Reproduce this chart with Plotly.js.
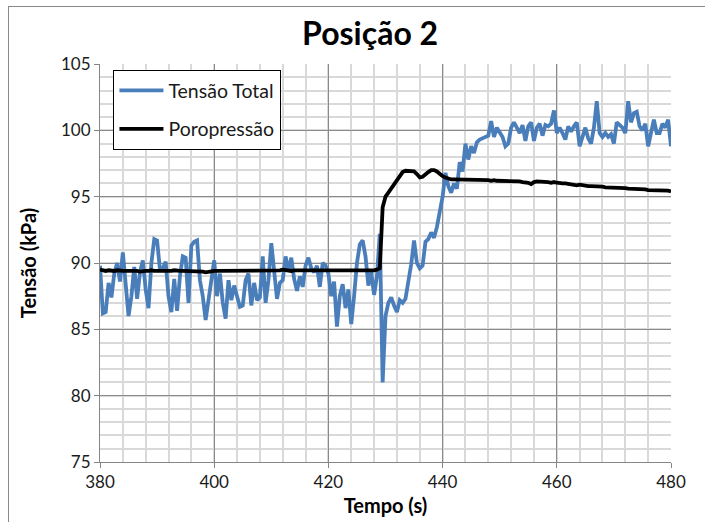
<!DOCTYPE html>
<html>
<head>
<meta charset="utf-8">
<script src="https://cdn.plot.ly/plotly-3.0.1.min.js"></script>
<style>
  html, body { margin: 0; padding: 0; background: #fff; }
  #wrap { position: relative; width: 705px; height: 522px; overflow: hidden; }
  #chart { position: absolute; left: 0; top: 0; width: 705px; height: 522px; }
  #frame { position: absolute; left: 8px; top: 6px; width: 760px; height: 600px;
           border-left: 1.5px solid #8a8a8a; border-top: 1.5px solid #8a8a8a; pointer-events: none; }
</style>
</head>
<body>
<div id="wrap">
  <div id="chart"></div>
  <div id="frame"></div>
</div>
<script>
// Sampling: one reading every 0.5 s starting at 380 s
const T_START = 380;
const T_STEP = 0.5;

// Total stress readings (kPa)
const tensaoTotal = [
  89.8, 86.2, 86.3, 88.5, 87.4, 89.2, 90.0, 88.6, 90.8, 88.0,
  86.0, 87.5, 89.7, 87.3, 89.3, 90.2, 88.0, 86.6, 90.0, 91.8,
  91.7, 89.5, 89.6, 90.1, 87.5, 86.3, 88.8, 86.4, 89.0, 90.5,
  90.4, 87.0, 91.3, 91.6, 91.7, 88.7, 87.5, 85.7, 87.4, 88.7,
  90.2, 87.5, 89.2, 87.0, 85.8, 88.7, 87.2, 88.3, 87.5, 86.7,
  86.8, 88.7, 89.2, 86.8, 88.5, 87.2, 87.4, 90.5, 87.0, 88.7,
  91.5, 89.0, 87.3, 88.5, 88.7, 90.5, 89.4, 90.4, 88.8, 87.9,
  89.0, 88.2, 89.8, 90.4, 89.6, 89.3, 89.8, 88.2, 90.0, 89.8,
  89.2, 87.5, 88.6, 85.2, 87.5, 88.4, 86.6, 88.0, 85.4, 87.5,
  90.0, 91.4, 91.7, 90.5, 88.3, 89.3, 87.6, 89.0, 92.2, 81.0,
  86.0, 87.0, 87.4, 86.8, 86.3, 87.2, 87.0, 87.3, 88.5, 89.9,
  91.7, 90.0, 89.6, 89.8, 91.6, 91.8, 92.3, 91.9, 92.7, 93.8,
  95.0, 96.8, 95.8, 95.3, 96.0, 95.6, 97.6, 96.9, 99.0, 97.8,
  98.8, 98.3, 99.1, 99.3, 99.4, 99.5, 99.6, 100.7, 99.5, 100.2,
  99.8, 99.5, 98.8, 99.0, 100.2, 100.6, 100.2, 99.8, 100.4, 99.2,
  100.3, 100.6, 99.2, 100.2, 100.5, 99.6, 100.4, 100.3, 100.5, 101.5,
  99.8, 100.2, 99.8, 99.3, 100.3, 99.9, 100.3, 100.6, 98.8, 99.6,
  100.2, 99.4, 99.0, 100.2, 102.2, 99.8, 99.5, 99.8, 99.5, 99.7,
  99.0, 100.6, 100.4, 100.2, 99.8, 102.2, 100.6, 101.3, 101.4, 100.3,
  100.0, 100.5, 98.8, 100.0, 100.8, 99.8, 99.8, 100.5, 100.2, 100.8,
  98.8
];

// Pore pressure readings (kPa)
const poropressao = [
  89.5, 89.45, 89.4, 89.45, 89.4, 89.4, 89.45, 89.4, 89.4, 89.4,
  89.4, 89.45, 89.4, 89.4, 89.35, 89.4, 89.4, 89.4, 89.45, 89.4,
  89.4, 89.4, 89.35, 89.4, 89.4, 89.4, 89.45, 89.4, 89.4, 89.4,
  89.4, 89.4, 89.35, 89.4, 89.4, 89.4, 89.35, 89.3, 89.35, 89.4,
  89.4, 89.4, 89.4, 89.45, 89.4, 89.4, 89.4, 89.45, 89.4, 89.4,
  89.4, 89.4, 89.45, 89.4, 89.4, 89.45, 89.45, 89.4, 89.45, 89.45,
  89.45, 89.45, 89.4, 89.45, 89.5, 89.45, 89.45, 89.4, 89.45, 89.45,
  89.45, 89.4, 89.45, 89.45, 89.45, 89.4, 89.45, 89.45, 89.4, 89.45,
  89.45, 89.45, 89.4, 89.45, 89.45, 89.45, 89.4, 89.45, 89.45, 89.45,
  89.45, 89.45, 89.45, 89.4, 89.45, 89.45, 89.45, 89.5, 89.6, 94.2,
  95.0, 95.3, 95.6, 95.9, 96.3, 96.6, 96.85, 96.95, 96.95, 96.95,
  96.9, 96.7, 96.45, 96.5, 96.7, 96.85, 97.0, 97.0, 96.9, 96.7,
  96.55, 96.45, 96.35, 96.3, 96.3, 96.3, 96.25, 96.3, 96.25, 96.25,
  96.25, 96.3, 96.25, 96.25, 96.25, 96.3, 96.25, 96.2, 96.25, 96.2,
  96.2, 96.2, 96.2, 96.2, 96.15, 96.2, 96.15, 96.15, 96.1, 96.1,
  96.05, 95.95, 96.1, 96.15, 96.15, 96.1, 96.1, 96.1, 96.05, 96.1,
  96.05, 96.0, 96.0, 96.0, 95.95, 95.95, 95.9, 95.85, 95.9, 95.85,
  95.85, 95.8, 95.8, 95.8, 95.8, 95.75, 95.75, 95.7, 95.7, 95.7,
  95.7, 95.7, 95.65, 95.65, 95.65, 95.6, 95.6, 95.6, 95.6, 95.55,
  95.55, 95.55, 95.5, 95.5, 95.5, 95.5, 95.5, 95.45, 95.45, 95.45,
  95.4
];

const xTickVals = [380, 400, 420, 440, 460, 480];
const yTickVals = [75, 80, 85, 90, 95, 100, 105];

const tempo = tensaoTotal.map((_, i) => T_START + i * T_STEP);

const FONT = 'Lato, "Open Sans", sans-serif';

const traces = [
  {
    x: tempo, y: tensaoTotal, name: 'Tensão Total', type: 'scatter', mode: 'lines',
    line: { color: '#4a7ebb', width: 3.8 }, legendgroup: 'a'
  },
  {
    x: tempo, y: poropressao, name: 'Poropressão', type: 'scatter', mode: 'lines',
    line: { color: '#000000', width: 3.8 }, legendgroup: 'b'
  }
];

const axisCommon = {
  showgrid: true, gridcolor: '#8a8a8a', gridwidth: 1,
  showline: true, linecolor: '#868686', linewidth: 1,
  ticks: 'outside', ticklen: 5, tickcolor: '#868686', tickwidth: 1,
  zeroline: false, tickfont: { size: 17 }
};

const layout = {
  width: 705, height: 522,
  paper_bgcolor: 'rgba(0,0,0,0)', plot_bgcolor: '#ffffff',
  margin: { l: 100, r: 34, t: 64, b: 60 },
  font: { family: FONT, color: '#1a1a1a', size: 17 },
  title: {
    text: '<b>Posição 2</b>',
    font: { family: FONT, size: 32, color: '#000' },
    x: 0.525, xanchor: 'center', xref: 'container',
    y: 0.935, yanchor: 'middle', yref: 'container'
  },
  xaxis: Object.assign({}, axisCommon, {
    range: [380, 480], tickvals: xTickVals, ticktext: xTickVals.map(String),
    minor: { dtick: 4, tick0: 380, showgrid: true, gridcolor: '#d9d9d9', gridwidth: 2 },
    title: { text: '<b>Tempo (s)</b>', font: { size: 20, color: '#000' }, standoff: 7 }
  }),
  yaxis: Object.assign({}, axisCommon, {
    range: [75, 105], tickvals: yTickVals, ticktext: yTickVals.map(String),
    minor: { dtick: 1, tick0: 75, showgrid: true, gridcolor: '#d9d9d9', gridwidth: 2 },
    title: { text: '<b>Tensão (kPa)</b>', font: { size: 20, color: '#000' }, standoff: 19 }
  }),
  showlegend: true,
  legend: {
    x: 0.023, y: 0.985, xanchor: 'left', yanchor: 'top',
    bgcolor: '#ffffff', bordercolor: '#000000', borderwidth: 1.3,
    font: { size: 19.5, color: '#1a1a1a' },
    itemwidth: 44, tracegroupgap: 10, traceorder: 'grouped'
  }
};

Plotly.newPlot('chart', traces, layout, { staticPlot: true, displayModeBar: false });
</script>
</body>
</html>
